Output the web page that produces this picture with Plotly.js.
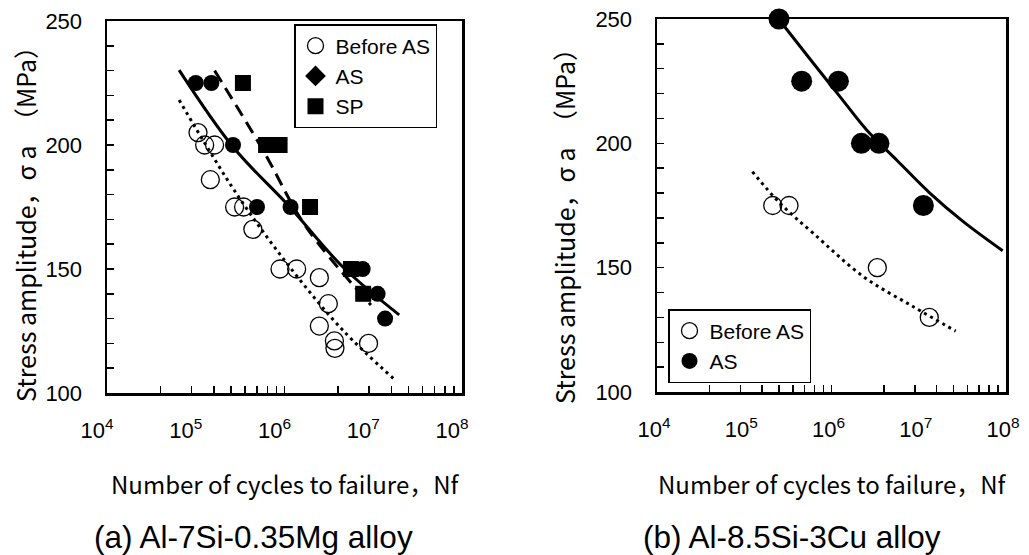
<!DOCTYPE html>
<html><head><meta charset="utf-8">
<script src="https://cdn.plot.ly/plotly-3.0.1.min.js"></script>
<style>html,body{margin:0;padding:0;background:#fff}#chart{width:1029px;height:555px}</style>
</head><body><div id="chart"></div>
<script>
// ---------- (a) Al-7Si-0.35Mg alloy ----------
const aBeforeN = [1.06e5, 1.26e5, 1.63e5, 1.46e5, 2.74e5, 3.46e5, 4.4e5, 8.9e5, 1.37e6, 2.47e6, 3.12e6, 2.47e6, 3.65e6, 3.7e6, 8.85e6];
const aBeforeS = [205, 200, 200, 186, 175, 175, 166, 150, 150, 146.5, 136, 127, 121, 118, 120];
const aAsN = [1.0e5, 1.5e5, 2.63e5, 4.9e5, 1.17e6, 7.6e6, 1.12e7, 1.36e7];
const aAsS = [225, 225, 200, 175, 175, 150, 140, 130];
const aSpN = [3.4e5, 6.2e5, 8.8e5, 1.94e6, 5.6e6, 7.7e6];
const aSpS = [225, 200, 200, 175, 150, 140];
// fitted curves
const aFitAsN = [6.5e4, 2.62e5, 1.14e6, 4.52e6, 1.96e7];
const aFitAsS = [230.2, 199.3, 175.1, 150.9, 131.5];
const aFitSpN = [1.63e5, 5.71e5, 1.75e6, 9.42e6];
const aFitSpS = [230, 198, 167, 135.5];
const aFitBeforeN = [6.5e4, 2.86e5, 1.14e6, 4.52e6, 1.68e7];
const aFitBeforeS = [218.1, 180.5, 150.9, 125.4, 105.9];

// ---------- (b) Al-8.5Si-3Cu alloy ----------
const bBeforeN = [2.12e5, 3.26e5, 3.35e6, 1.32e7];
const bBeforeS = [175, 175, 150, 130];
const bAsN = [2.5e5, 4.55e5, 1.2e6, 2.2e6, 3.5e6, 1.13e7];
const bAsS = [250, 225, 225, 200, 200, 175];
const bFitAsN = [2.86e5, 6.19e5, 1.25e6, 2.53e6, 5.58e6, 1.35e7, 3.24e7, 9.16e7];
const bFitAsS = [247.2, 232.2, 218.8, 205.4, 193.3, 179.9, 168.5, 156.8];
const bFitBeforeN = [1.24e5, 2.57e5, 6.19e5, 2.32e6, 8.67e6, 2.65e7];
const bFitBeforeS = [188.6, 175.9, 163.8, 146.4, 134.3, 124.5];

// axis tick values / labels
const xTickVals = [1e4, 1e5, 1e6, 1e7, 1e8];
const xTickText = ['10<sup>4</sup>', '10<sup>5</sup>', '10<sup>6</sup>', '10<sup>7</sup>', '10<sup>8</sup>'];
const xMinorTicks = [4e4, 9e4, 1.6e5, 2.5e5, 3.6e5, 4.9e5, 6.4e5, 8.1e5, 1e6, 4e6, 9e6, 1.6e7, 2.5e7, 3.6e7, 4.9e7, 6.4e7, 8.1e7];
const yTickVals = [100, 150, 200, 250];

const xTitle = 'Number of cycles to failure，Nf';
const yTitle = 'Stress amplitude，σ a　（MPa）';
const subTitles = ['(a) Al-7Si-0.35Mg alloy', '(b) Al-8.5Si-3Cu alloy'];

const W = 1029, H = 555;
const px = v => v / W, py = v => 1 - v / H;
const tickFont = {family: 'Liberation Sans, Arial, sans-serif', size: 22, color: '#000'};
const jpFont = {family: 'Noto Sans CJK JP, sans-serif', size: 24, color: '#000'};

const openMk = s => ({symbol: 'circle-open', size: s, color: '#000', line: {width: 1.3, color: '#000'}});
const fillMk = s => ({symbol: 'circle', size: s, color: '#000'});

const traces = [
  // left fits
  {x: aFitBeforeN, y: aFitBeforeS, mode: 'lines', line: {color: '#000', width: 3, dash: '3px,4px', shape: 'spline'}, xaxis: 'x', yaxis: 'y', showlegend: false, hoverinfo: 'skip'},
  {x: aFitAsN, y: aFitAsS, mode: 'lines', line: {color: '#000', width: 3, shape: 'spline'}, xaxis: 'x', yaxis: 'y', showlegend: false, hoverinfo: 'skip'},
  {x: aFitSpN, y: aFitSpS, mode: 'lines', line: {color: '#000', width: 3, dash: '13px,7px', shape: 'spline'}, xaxis: 'x', yaxis: 'y', showlegend: false, hoverinfo: 'skip'},
  // left data
  {x: aBeforeN, y: aBeforeS, mode: 'markers', name: 'Before AS', marker: openMk(18), xaxis: 'x', yaxis: 'y', legend: 'legend', cliponaxis: false},
  {x: aAsN, y: aAsS, mode: 'markers', name: 'AS', marker: fillMk(16), xaxis: 'x', yaxis: 'y', showlegend: false, cliponaxis: false},
  {x: [null], y: [null], mode: 'markers', name: 'AS', marker: {symbol: 'diamond', size: 16, color: '#000'}, xaxis: 'x', yaxis: 'y', legend: 'legend'},
  {x: aSpN, y: aSpS, mode: 'markers', name: 'SP', marker: {symbol: 'square', size: 16, color: '#000'}, xaxis: 'x', yaxis: 'y', legend: 'legend', cliponaxis: false},
  // right fits
  {x: bFitBeforeN, y: bFitBeforeS, mode: 'lines', line: {color: '#000', width: 3, dash: '3px,4px', shape: 'spline'}, xaxis: 'x2', yaxis: 'y2', showlegend: false, hoverinfo: 'skip'},
  {x: bFitAsN, y: bFitAsS, mode: 'lines', line: {color: '#000', width: 3, shape: 'spline'}, xaxis: 'x2', yaxis: 'y2', showlegend: false, hoverinfo: 'skip'},
  // right data
  {x: bBeforeN, y: bBeforeS, mode: 'markers', name: 'Before AS', marker: openMk(18), xaxis: 'x2', yaxis: 'y2', legend: 'legend2', cliponaxis: false},
  {x: bAsN, y: bAsS, mode: 'markers', name: 'AS', marker: fillMk(21), xaxis: 'x2', yaxis: 'y2', legend: 'legend2', cliponaxis: false}
];

function xAxis(dom, anchor, shift) {
  return {type: 'log', range: [4, 8], domain: dom, anchor: anchor, showline: true, mirror: true,
    linecolor: '#000', linewidth: 2.5, ticks: '', tickvals: xTickVals, ticktext: xTickText,
    tickfont: tickFont, showgrid: false, zeroline: false, ticklabelstandoff: 16, ticklabelshift: shift, fixedrange: true};
}
function xMinor(over, anchor) {
  return {type: 'log', range: [4, 8], overlaying: over, anchor: anchor, side: 'bottom', showline: false,
    ticks: 'inside', ticklen: 7, tickwidth: 1.5, tickcolor: '#000', tickvals: xMinorTicks, showticklabels: false,
    showgrid: false, zeroline: false, fixedrange: true};
}
function yAxis(dom, anchor) {
  return {range: [100, 250], domain: dom, anchor: anchor, showline: true, mirror: true,
    linecolor: '#000', linewidth: 2.5, ticks: 'inside', ticklen: 7, tickwidth: 1.5, tickcolor: '#000',
    tickvals: yTickVals, tickfont: tickFont, showgrid: false, zeroline: false, ticklabelstandoff: 18,
    minor: {dtick: 10, tick0: 100, ticks: 'inside', ticklen: 7, tickwidth: 1.5, tickcolor: '#000', showgrid: false},
    fixedrange: true};
}
// empty traces so the overlay (minor-tick) axes are drawn
traces.push({x: [null], y: [null], xaxis: 'x3', yaxis: 'y', showlegend: false, hoverinfo: 'skip'});
traces.push({x: [null], y: [null], xaxis: 'x4', yaxis: 'y2', showlegend: false, hoverinfo: 'skip'});

const legendBase = {bgcolor: '#fff', bordercolor: '#000', borderwidth: 1.5, xanchor: 'left', yanchor: 'top',
  font: {family: 'Liberation Sans, Arial, sans-serif', size: 21, color: '#000'}, tracegroupgap: 0};

const layout = {
  width: W, height: H, margin: {l: 0, r: 0, t: 0, b: 0}, paper_bgcolor: '#fff', plot_bgcolor: '#fff',
  showlegend: true,
  xaxis: xAxis([px(107), px(462)], 'y', -10),
  yaxis: yAxis([py(393), py(21)], 'x'),
  xaxis2: xAxis([px(657), px(1006)], 'y2', -3),
  yaxis2: yAxis([py(392), py(19)], 'x2'),
  xaxis3: xMinor('x', 'y'),
  xaxis4: xMinor('x2', 'y2'),
  legend: Object.assign({}, legendBase, {x: px(294), y: py(24)}),
  legend2: Object.assign({}, legendBase, {x: px(668), y: py(309)}),
  annotations: [
    {text: yTitle, xref: 'paper', yref: 'paper', x: px(25), y: py(218), textangle: -90, showarrow: false, font: Object.assign({}, jpFont, {size: 25}), xanchor: 'center', yanchor: 'middle'},
    {text: yTitle, xref: 'paper', yref: 'paper', x: px(564), y: py(220), textangle: -90, showarrow: false, font: Object.assign({}, jpFont, {size: 25}), xanchor: 'center', yanchor: 'middle'},
    {text: xTitle, xref: 'paper', yref: 'paper', x: px(285), y: py(483), showarrow: false, font: jpFont, xanchor: 'center', yanchor: 'middle'},
    {text: xTitle, xref: 'paper', yref: 'paper', x: px(832), y: py(483), showarrow: false, font: jpFont, xanchor: 'center', yanchor: 'middle'},
    {text: subTitles[0], xref: 'paper', yref: 'paper', x: px(253), y: py(537), showarrow: false, font: {family: 'Liberation Sans, Arial, sans-serif', size: 31.5, color: '#000'}, xanchor: 'center', yanchor: 'middle'},
    {text: subTitles[1], xref: 'paper', yref: 'paper', x: px(792), y: py(537), showarrow: false, font: {family: 'Liberation Sans, Arial, sans-serif', size: 31.5, color: '#000'}, xanchor: 'center', yanchor: 'middle'}
  ]
};

Plotly.newPlot('chart', traces, layout, {displayModeBar: false, staticPlot: true});
</script></body></html>
